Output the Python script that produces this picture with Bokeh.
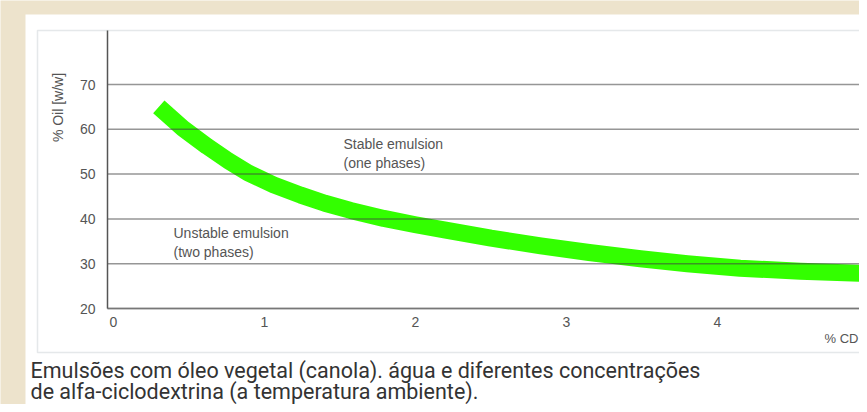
from bokeh.plotting import figure
from bokeh.models import Range1d, FixedTicker, Label, BoxAnnotation
from bokeh.embed import file_html
from bokeh.resources import INLINE

# Data
cd = [0.30, 0.46, 0.62, 0.76, 0.89, 1.06, 1.24, 1.40, 1.57, 1.79, 2.00, 2.20,
      2.50, 2.83, 3.15, 3.49, 3.80, 4.15, 4.55, 5.00, 5.10]
oil = [65.0, 60.2, 56.2, 53.0, 50.3, 47.6, 45.3, 43.5, 41.9, 40.1, 38.7, 37.5,
       35.7, 34.0, 32.5, 31.1, 30.0, 29.0, 28.3, 27.8, 27.7]
x_ticks = [0, 1, 2, 3, 4, 5]
y_ticks = [20, 30, 40, 50, 60, 70]
y_title = "% Oil [w/w]"
x_title = "% CD"
stable_text = "Stable emulsion\n(one phases)"
unstable_text = "Unstable emulsion\n(two phases)"
caption1 = "Emulsões com óleo vegetal (canola). água e diferentes concentrações"
caption2 = "de alfa-ciclodextrina (a temperatura ambiente)."

BEIGE = "#ede3cc"
TXT = "#555555"
FONT = "Liberation Sans"

W, H = 859, 404
# layout geometry (figure pixels)
X0_PX, X_PXU = 113.0, 151.0      # where cd=0 sits, pixels per unit
Y0_PX, Y_PXU = 308.0, 4.48       # where oil=20 sits, pixels per unit


def xd(px):
    return (px - X0_PX) / X_PXU


def yd(py):
    return 20 + (Y0_PX - py) / Y_PXU


AX_LEFT = xd(107)
AX_RIGHT = xd(W)
AX_TOP = yd(30)

p = figure(width=W, height=H, output_backend="svg", toolbar_location=None,
           x_range=Range1d(xd(0), xd(W)), y_range=Range1d(yd(H), yd(0)),
           min_border_left=0, min_border_right=0, min_border_top=0,
           min_border_bottom=0)
p.background_fill_color = BEIGE
p.border_fill_color = BEIGE
p.outline_line_color = None
p.xgrid.visible = False
p.ygrid.visible = False

# white panel and thin frame box
p.add_layout(BoxAnnotation(left=xd(25), top=yd(14), fill_color="white", fill_alpha=1,
                           line_color=None, level="underlay"))
p.add_layout(BoxAnnotation(left=xd(37), right=xd(W + 20), top=AX_TOP, bottom=yd(352),
                           fill_alpha=0, line_color="#aab3b8", line_width=1.5,
                           level="underlay"))

# axes
p.xaxis.ticker = FixedTicker(ticks=x_ticks)
p.yaxis.ticker = FixedTicker(ticks=y_ticks)
p.xaxis.fixed_location = y_ticks[0]
p.yaxis.fixed_location = AX_LEFT
p.xaxis.bounds = (AX_LEFT, AX_RIGHT)
p.yaxis.bounds = (y_ticks[0], AX_TOP)
for ax in (p.xaxis[0], p.yaxis[0]):
    ax.major_tick_line_color = None
    ax.minor_tick_line_color = None
    ax.major_tick_out = 0
    ax.minor_tick_out = 0
    ax.major_tick_in = 0
    ax.major_label_text_font = FONT
    ax.major_label_text_font_size = "14px"
    ax.major_label_text_color = TXT
p.yaxis.axis_line_color = "#555555"
p.yaxis.axis_line_width = 1.5
p.xaxis.axis_line_color = "#777777"
p.xaxis.axis_line_width = 1.5
p.yaxis.major_label_standoff = 12
p.xaxis.major_label_standoff = 8

# the curve
p.line(cd, oil, line_width=17, line_color="#33ff00", line_cap="butt", line_join="round")

# horizontal grid lines, drawn over the curve as in the reference
p.segment(x0=[AX_LEFT] * len(y_ticks), x1=[xd(W + 20)] * len(y_ticks),
          y0=y_ticks, y1=y_ticks, line_color="#404040", line_alpha=0.55, line_width=1.5)

# texts
p.add_layout(Label(x=xd(57), y=yd(107), text=y_title,
                   angle=90, angle_units="deg", text_align="center", text_baseline="middle",
                   text_font=FONT, text_font_size="14px", text_color=TXT))
p.add_layout(Label(x=xd(343), y=yd(135.5), text=stable_text, text_baseline="top",
                   text_font=FONT, text_font_size="14px", text_color=TXT))
p.add_layout(Label(x=xd(173), y=yd(224.5), text=unstable_text, text_baseline="top",
                   text_font=FONT, text_font_size="14px", text_color=TXT))
p.add_layout(Label(x=xd(858), y=yd(330), text=x_title, text_align="right",
                   text_baseline="top", text_font=FONT, text_font_size="13px", text_color=TXT))
p.add_layout(Label(x=xd(30), y=yd(357.5), text=caption1,
                   text_baseline="top", text_font="Roboto", text_font_size="21.5px",
                   text_color="#333333"))
p.add_layout(Label(x=xd(30), y=yd(378.5), text=caption2,
                   text_baseline="top", text_font="Roboto", text_font_size="21.5px",
                   text_color="#333333"))

open("out.html", "w").write(file_html(p, INLINE))
